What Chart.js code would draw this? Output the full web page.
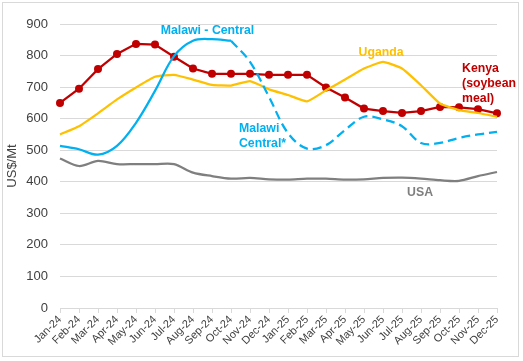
<!DOCTYPE html>
<html lang="en">
<head>
    <meta charset="UTF-8">
    <title>Soybean meal prices</title>
    <style>
        body { margin: 0; background: #fff; }
        #wrap { position: relative; width: 523px; height: 361px; }
        #frame { position: absolute; left: 2px; top: 2px; width: 517px; height: 355px; border: 1px solid #d9d9d9; box-sizing: border-box; pointer-events: none; }
    </style>
</head>
<body>
    <div id="wrap">
        <canvas id="myChart" width="523" height="361"></canvas>
        <div id="frame"></div>
    </div>

    <script src="https://cdn.jsdelivr.net/npm/chart.js"></script>

    <script>
        const months = ['Jan-24','Feb-24','Mar-24','Apr-24','May-24','Jun-24','Jul-24','Aug-24','Sep-24','Oct-24','Nov-24','Dec-24',
                        'Jan-25','Feb-25','Mar-25','Apr-25','May-25','Jun-25','Jul-25','Aug-25','Sep-25','Oct-25','Nov-25','Dec-25'];
        const kenya = [650,695,757,805,837,835,796,759,742,742,742,739,739,739,699,667,632,624,618,624,637,636,630,617];
        const uganda = [550,576,617,661,699,733,739,724,707,705,719,693,675,655,690,724,759,780,759,706,648,627,618,606];
        const malawi = [514,503,486,514,587,688,798,847,852,847,null,null,null,null,null,null,null,null,null,null,null,null,null,null];
        const malawiStar = [null,null,null,null,null,null,null,null,null,847,780,669,554,505,516,564,606,598,576,523,523,539,550,558];
        const usa = [474,450,466,456,456,456,456,429,418,410,412,408,407,410,410,407,408,412,413,410,405,403,418,431];
        const yTicks = [0,100,200,300,400,500,600,700,800,900];

        // text labels placed by category index / value
        const seriesLabels = [
            { lines: ['Malawi - Central'], x: 7.76, y: 878, color: '#00B0F0', align: 'center' },
            { lines: ['Malawi', 'Central*'], x: 9.42, y: 569, color: '#00B0F0', align: 'left' },
            { lines: ['Uganda'], x: 16.9, y: 809, color: '#FFC000', align: 'center' },
            { lines: ['Kenya', '(soybean', 'meal)'], x: 21.16, y: 760, color: '#C00000', align: 'left' },
            { lines: ['USA'], x: 18.95, y: 365, color: '#7F7F7F', align: 'center' }
        ];

        const labelPlugin = {
            id: 'seriesLabels',
            afterDatasetsDraw(chart) {
                const c = chart.ctx;
                const xs = chart.scales.x, ys = chart.scales.y;
                c.save();
                c.font = 'bold 12.3px "Liberation Sans", Arial, sans-serif';
                c.textBaseline = 'middle';
                seriesLabels.forEach(l => {
                    const px = xs.left + (xs.right - xs.left) * l.x / (months.length - 1);
                    const py = ys.getPixelForValue(l.y);
                    c.fillStyle = l.color;
                    c.textAlign = l.align;
                    l.lines.forEach((t, i) => c.fillText(t, px, py + i * 15.3));
                });
                c.restore();
            }
        };

        const ctx = document.getElementById('myChart');

        new Chart(ctx, {
            type: 'line',
            data: {
                labels: months,
                datasets: [
                    { label: 'USA', data: usa, borderColor: '#7F7F7F', borderWidth: 2.25, pointRadius: 0, tension: 0.3 },
                    { label: 'Malawi - Central', data: malawi, borderColor: '#00B0F0', borderWidth: 2.25, pointRadius: 0, tension: 0.35 },
                    { label: 'Malawi Central*', data: malawiStar, borderColor: '#00B0F0', borderWidth: 2.25, borderDash: [9, 5], pointRadius: 0, tension: 0.35 },
                    { label: 'Uganda', data: uganda, borderColor: '#FFC000', borderWidth: 2.25, pointRadius: 0, tension: 0.15 },
                    { label: 'Kenya (soybean meal)', data: kenya, borderColor: '#C00000', backgroundColor: '#C00000', borderWidth: 2.25, pointRadius: 4, pointBorderWidth: 0, tension: 0 }
                ]
            },
            options: {
                responsive: false,
                animation: false,
                layout: { padding: { left: 0, right: 26, top: 24, bottom: 0 } },
                plugins: { legend: { display: false }, tooltip: { enabled: false } },
                scales: {
                    x: {
                        offset: false,
                        afterFit(scale) { scale.height = 53; },
                        grid: { drawOnChartArea: false, drawTicks: true, tickLength: 5, color: '#d9d9d9' },
                        border: { color: '#d9d9d9' },
                        ticks: {
                            minRotation: 45, maxRotation: 45, autoSkip: false, padding: 0,
                            color: '#404040', font: { family: '"Liberation Sans", Arial, sans-serif', size: 11 }
                        }
                    },
                    y: {
                        min: 0, max: 900,
                        afterFit(scale) { scale.width = 60; },
                        afterBuildTicks(scale) { scale.ticks = yTicks.map(v => ({ value: v })); },
                        grid: { color: '#d9d9d9', drawTicks: false },
                        border: { display: false },
                        ticks: { padding: 12, color: '#404040', font: { family: '"Liberation Sans", Arial, sans-serif', size: 13 } },
                        title: { display: true, text: 'US$/Mt', color: '#404040', padding: { top: 5, bottom: 0 }, font: { family: '"Liberation Sans", Arial, sans-serif', size: 13 } }
                    }
                }
            },
            plugins: [labelPlugin]
        });
    </script>
</body>
</html>
